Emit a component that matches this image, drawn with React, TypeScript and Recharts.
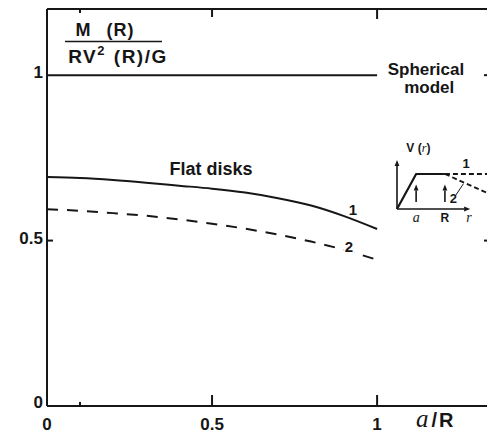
import { LineChart, Line, XAxis, YAxis, ReferenceDot, ReferenceLine } from "recharts";

// a/R and the mass ratio for the two flat-disk rotation curves
const ratio = [0, 0.1, 0.2, 0.3, 0.4, 0.5, 0.6, 0.7, 0.8, 0.9, 1.0];
const disk1 = [0.692, 0.689, 0.683, 0.675, 0.666, 0.657, 0.645, 0.628, 0.606, 0.574, 0.535];
const disk2 = [0.595, 0.59, 0.583, 0.575, 0.564, 0.551, 0.536, 0.518, 0.497, 0.472, 0.442];
const sphereRatio = [0, 1];
const sphere = [1, 1];

const xTicks = [0, 0.1, 0.5, 1];
const topTicks = [0.1, 0.5, 1];
const yTicks = [0, 0.5, 1];
const rightTicks = [0.5, 1];

// inset sketch of the rotation curve V(r)
const insetR = [0, 0.85, 2.13];
const insetV = [0, 1, 1];
const insetR1 = [2.13, 4];
const insetV1 = [1, 1];
const insetR2 = [2.13, 4];
const insetV2 = [1, 0.46];
const insetA = 0.85;
const insetBigR = 2.13;

const INK = "#161616";
const FONT = "'Liberation Sans', Arial, sans-serif";
const SCRIPT = "'Liberation Serif', 'DejaVu Serif', serif";

const zip = (xs: number[], ys: number[]) => xs.map((x, i) => ({ x, y: ys[i] }));

const BottomTick = (p: any) => {
  const v = p.payload.value;
  const len = v === 0 ? 0 : v === 0.1 ? 4 : 11;
  return (
    <g>
      <path d={`M${p.x},${p.y}V${p.y - len}`} stroke={INK} strokeWidth={2} fill="none" />
      {v !== 0.1 && (
        <text x={p.x} y={p.y + 24} textAnchor="middle" fontFamily={FONT} fontWeight="bold" fontSize={17} fill={INK}>
          {v}
        </text>
      )}
    </g>
  );
};

const TopTick = (p: any) => {
  const v = p.payload.value;
  const len = v === 0.1 ? 4 : v === 0.5 ? 8 : 10;
  return <path d={`M${p.x},${p.y}V${p.y + len}`} stroke={INK} strokeWidth={2} fill="none" />;
};

const LeftTick = (p: any) => {
  const v = p.payload.value;
  return (
    <g>
      {v === 0.5 && <path d={`M${p.x},${p.y}H${p.x + 6}`} stroke={INK} strokeWidth={2} fill="none" />}
      <text x={p.x - 4} y={p.y + (v === 0 ? 2 : 3)} textAnchor="end" fontFamily={FONT} fontWeight="bold" fontSize={17} fill={INK}>
        {v}
      </text>
    </g>
  );
};

const RightTick = (p: any) => (
  <path d={`M${p.x},${p.y}H${p.x - 3}`} stroke={INK} strokeWidth={2} fill="none" />
);

const AxisTitle = (p: any) => {
  const vb = p.viewBox;
  const cx = vb.x + vb.width + 66;
  return (
    <g fontFamily={FONT} fontWeight="bold" fill={INK}>
      <text x={cx - 8} y={vb.y + 27} textAnchor="middle" fontSize={18} wordSpacing={9} letterSpacing={1}>
        M (R)
      </text>
      <line x1={cx - 48} x2={cx + 49} y1={vb.y + 32.5} y2={vb.y + 32.5} stroke={INK} strokeWidth={1.6} />
      <text x={cx + 5} y={vb.y + 54} textAnchor="middle" fontSize={19} letterSpacing={1.5} wordSpacing={1}>
        RV<tspan fontSize={13} dy={-8}>2</tspan>
        <tspan dy={8}> (R)/G</tspan>
      </text>
    </g>
  );
};

const XTitle = (p: any) => {
  const vb = p.viewBox;
  return (
    <text x={vb.x + vb.width - 71} y={vb.y + 21} fontFamily={FONT} fontWeight="bold" fontSize={20} fill={INK}>
      <tspan fontFamily={SCRIPT} fontStyle="italic" fontWeight="normal" fontSize={25}>a</tspan>
      <tspan dx={3} letterSpacing={2}>/R</tspan>
    </text>
  );
};

const note = (text: string, size: number, halo = false) => (p: any) => (
  <text
    x={p.cx}
    y={p.cy}
    textAnchor="middle"
    fontFamily={FONT}
    fontWeight="bold"
    fontSize={size}
    fill={INK}
    stroke={halo ? "#fff" : "none"}
    strokeWidth={halo ? 4 : 0}
    paintOrder="stroke"
  >
    {text}
  </text>
);

const script = (text: string, size: number) => (p: any) => (
  <text x={p.cx} y={p.cy} textAnchor="middle" fontFamily={SCRIPT} fontStyle="italic" fontSize={size} fill={INK}>
    {text}
  </text>
);

const Arrow = (p: any) => {
  const { x1, y1, x2, y2 } = p;
  const ang = Math.atan2(y2 - y1, x2 - x1);
  const L = 6;
  const W = 2.4;
  const bx = x2 - L * Math.cos(ang);
  const by = y2 - L * Math.sin(ang);
  const px = -Math.sin(ang) * W;
  const py = Math.cos(ang) * W;
  return (
    <g>
      <line x1={x1} y1={y1} x2={bx} y2={by} stroke={INK} strokeWidth={1.6} />
      <polygon points={`${x2},${y2} ${bx + px},${by + py} ${bx - px},${by - py}`} fill={INK} />
    </g>
  );
};

function Inset() {
  return (
    <div style={{ position: "absolute", left: 392, top: 135 }}>
      <LineChart width={97} height={90} margin={{ top: 25, right: 2, left: 5, bottom: 16 }} style={{ overflow: "visible" }}>
        <XAxis type="number" dataKey="x" domain={[0, 4]} hide />
        <YAxis type="number" domain={[0, 1.4]} hide />
        <ReferenceLine segment={[{ x: 0, y: 0 }, { x: 0, y: 1.4 }]} shape={Arrow} ifOverflow="visible" />
        <ReferenceLine segment={[{ x: 0, y: 0 }, { x: 3.25, y: 0 }]} shape={Arrow} ifOverflow="visible" />
        <ReferenceLine segment={[{ x: insetA, y: 0.2 }, { x: insetA, y: 0.7 }]} shape={Arrow} ifOverflow="visible" />
        <ReferenceLine segment={[{ x: insetBigR, y: 0.2 }, { x: insetBigR, y: 0.7 }]} shape={Arrow} ifOverflow="visible" />
        <ReferenceLine segment={[{ x: 2.62, y: 0.4 }, { x: 2.95, y: 0.72 }]} stroke={INK} strokeWidth={1} ifOverflow="visible" />
        <Line data={zip(insetR, insetV)} dataKey="y" stroke={INK} strokeWidth={2.2} dot={false} isAnimationActive={false} />
        <Line data={zip(insetR1, insetV1)} dataKey="y" stroke={INK} strokeWidth={1.8} strokeDasharray="5 3" dot={false} isAnimationActive={false} />
        <Line data={zip(insetR2, insetV2)} dataKey="y" stroke={INK} strokeWidth={1.8} strokeDasharray="5 3" dot={false} isAnimationActive={false} />
        <ReferenceDot x={0.95} y={1.63} r={0} ifOverflow="visible" shape={(p: any) => (
          <text x={p.cx} y={p.cy} textAnchor="middle" fontFamily={FONT} fontWeight="bold" fontSize={12} fill={INK}>
            V (<tspan fontFamily={SCRIPT} fontStyle="italic" fontWeight="normal">r</tspan>)
          </text>
        )} />
        <ReferenceDot x={insetA} y={-0.37} r={0} ifOverflow="visible" shape={script("a", 14)} />
        <ReferenceDot x={insetBigR} y={-0.37} r={0} ifOverflow="visible" shape={note("R", 12)} />
        <ReferenceDot x={3.2} y={-0.37} r={0} ifOverflow="visible" shape={script("r", 14)} />
        <ReferenceDot x={3.07} y={1.17} r={0} ifOverflow="visible" shape={note("1", 13)} />
        <ReferenceDot x={2.5} y={0.17} r={0} ifOverflow="visible" shape={note("2", 13)} />
      </LineChart>
    </div>
  );
}

export default function App() {
  return (
    <div style={{ position: "absolute", left: 0, top: 0, width: 489, height: 433, background: "#fff" }}>
      <LineChart width={489} height={433} margin={{ top: 0, right: 0, bottom: 0, left: 0 }}>
        <XAxis
          type="number"
          dataKey="x"
          domain={[0, 1.333]}
          ticks={xTicks}
          height={27}
          tickSize={0}
          tickMargin={0}
          tick={BottomTick}
          axisLine={{ stroke: INK, strokeWidth: 2 }}
          allowDataOverflow
          label={{ content: XTitle }}
        />
        <XAxis
          xAxisId="top"
          orientation="top"
          type="number"
          dataKey="x"
          domain={[0, 1.333]}
          ticks={topTicks}
          height={9}
          tickSize={0}
          tickMargin={0}
          tick={TopTick}
          axisLine={{ stroke: INK, strokeWidth: 2 }}
          allowDataOverflow
        />
        <YAxis
          type="number"
          domain={[0, 1.2]}
          ticks={yTicks}
          width={47}
          tickSize={0}
          tickMargin={0}
          tick={LeftTick}
          axisLine={{ stroke: INK, strokeWidth: 2 }}
          label={{ content: AxisTitle }}
        />
        <YAxis
          yAxisId="right"
          orientation="right"
          type="number"
          domain={[0, 1.2]}
          ticks={rightTicks}
          width={2}
          tickSize={0}
          tickMargin={0}
          tick={RightTick}
          axisLine={false}
        />
        <Line data={zip(sphereRatio, sphere)} xAxisId="top" dataKey="y" stroke={INK} strokeWidth={2} dot={false} isAnimationActive={false} />
        <Line data={zip(ratio, disk1)} dataKey="y" type="monotone" stroke={INK} strokeWidth={2} dot={false} isAnimationActive={false} />
        <Line data={zip(ratio, disk2)} yAxisId="right" dataKey="y" type="monotone" stroke={INK} strokeWidth={2} strokeDasharray="11 9" dot={false} isAnimationActive={false} />
        <ReferenceDot x={0.497} y={0.698} r={0} shape={note("Flat  disks", 18)} />
        <ReferenceDot x={1.148} y={1.0} r={0} shape={note("Spherical", 17)} />
        <ReferenceDot x={1.158} y={0.946} r={0} shape={note("model", 17)} />
        <ReferenceDot x={0.927} y={0.577} r={0} shape={note("1", 15)} />
        <ReferenceDot x={0.915} y={0.465} r={0} shape={note("2", 15, true)} />
      </LineChart>
      <Inset />
    </div>
  );
}
